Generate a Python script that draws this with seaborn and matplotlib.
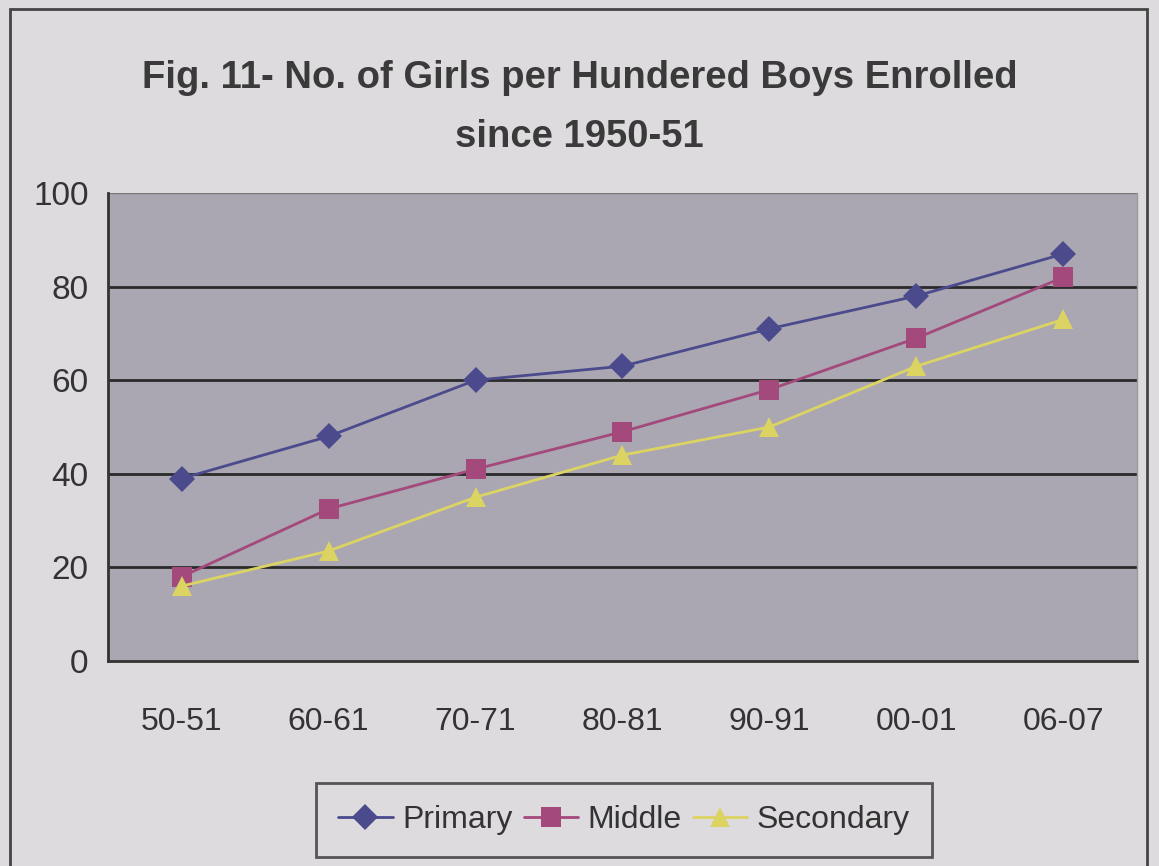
import matplotlib
matplotlib.use("Agg")
import matplotlib.pyplot as plt
import seaborn as sns
import pandas as pd
import numpy as np
from matplotlib.patches import Rectangle

years = ["50-51", "60-61", "70-71", "80-81", "90-91", "00-01", "06-07"]
primary = [39, 48, 60, 63, 71, 78, 87]
middle = [18, 32.5, 41, 49, 58, 69, 82]
secondary = [16, 23.5, 35, 44, 50, 63, 73]
series_names = ["Primary", "Middle", "Secondary"]

sns.set_style("white")
plt.rcParams['font.family'] = ['Liberation Sans', 'DejaVu Sans']

fig = plt.figure(figsize=(11.59, 8.66), dpi=100)
fig.patch.set_facecolor("#dedbdf")
ax = fig.add_axes([0.0932, 0.2367, 0.8878, 0.5404])
ax.set_facecolor("#aaa7b2")

df = pd.DataFrame({
    "pos": list(range(len(years))) * 3,
    "value": primary + middle + secondary,
    "series": sum([[n] * len(years) for n in series_names], []),
})
palette = {"Primary": "#4b4a8c", "Middle": "#a3497c", "Secondary": "#dcd462"}
markers = {"Primary": "D", "Middle": "s", "Secondary": "^"}
sizes_ms = {"Primary": 13, "Middle": 14, "Secondary": 15}

for name in series_names:
    sub = df[df.series == name]
    sns.lineplot(data=sub, x="pos", y="value", ax=ax, color=palette[name],
                 marker=markers[name], markersize=sizes_ms[name],
                 markeredgewidth=0, linewidth=2, label=name, zorder=3)

ax.set_xlim(-0.5, len(years) - 0.5)
ax.set_ylim(0, 100)
ax.set_yticks([0, 20, 40, 60, 80, 100])
ax.set_yticklabels(["0", "20", "40", "60", "80", "100"], fontsize=24, color="#333333")
ax.set_xticks(range(len(years)))
ax.set_xticklabels(years, fontsize=23, color="#333333")
ax.set_xticks(np.arange(-0.5, len(years)), minor=True)
ax.tick_params(axis="x", which="major", length=0, pad=33)
ax.tick_params(axis="x", which="minor", length=11, width=2, color="#333333", direction="out")
ax.tick_params(axis="y", which="major", length=8, width=2, color="#333333", direction="out", pad=6)
ax.set_xlabel("")
ax.set_ylabel("")

for y in [20, 40, 60, 80]:
    ax.axhline(y, color="#2a2a2a", linewidth=2, zorder=1)
ax.axhline(100, color="#777777", linewidth=1, zorder=1)

for s in ["left", "bottom"]:
    ax.spines[s].set_color("#333333")
    ax.spines[s].set_linewidth(2)
ax.spines["top"].set_visible(False)
ax.spines["right"].set_color("#999999")
ax.spines["right"].set_linewidth(1)

fig.text(0.5, 0.91, "Fig. 11- No. of Girls per Hundered Boys Enrolled",
         ha="center", va="center", fontsize=27.5, fontweight="bold", color="#3a3a3a")
fig.text(0.5, 0.842, "since 1950-51",
         ha="center", va="center", fontsize=27.5, fontweight="bold", color="#3a3a3a")

leg = ax.legend(loc="center", bbox_to_anchor=(0.5015, -0.34), ncol=3, fontsize=23,
                frameon=True, handlelength=1.7, columnspacing=0.35, handletextpad=0.3,
                borderpad=0.7, fancybox=False)
leg.get_frame().set_edgecolor("#333333")
leg.get_frame().set_linewidth(2)
leg.get_frame().set_facecolor("#dedbdf")
for t in leg.get_texts():
    t.set_color("#333333")

fig.patches.append(Rectangle((0.009, -0.01), 0.981, 1.0, transform=fig.transFigure,
                             fill=False, edgecolor="#444444", linewidth=2))

fig.savefig("out.png", dpi=100, facecolor=fig.get_facecolor())
